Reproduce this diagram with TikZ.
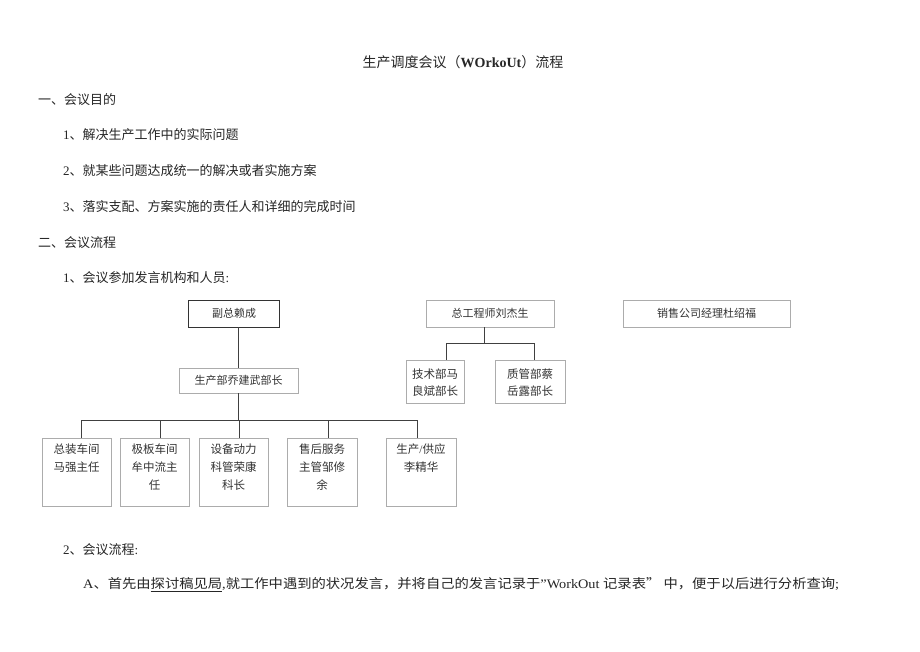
\documentclass[tikz,border=0pt]{standalone}
\usepackage{fontspec}
\usepackage{graphicx}
\setmainfont{Liberation Serif}
\newfontfamily\cjk{Noto Sans CJK SC}
\newcommand\latn[1]{{\rmfamily #1}}
\begin{document}
\begin{tikzpicture}[x=1pt,y=-1pt,
  txt/.style={anchor=west,inner sep=0pt,font=\cjk\fontsize{13}{15}\selectfont,text=black!85},
  topbox/.style={draw=black!80,line width=0.8pt,minimum height=27,inner sep=0pt,font=\cjk\fontsize{11}{13}\selectfont,text=black!80},
  orgbox/.style={draw=gray!65,line width=0.7pt,inner sep=0pt,font=\cjk\fontsize{11}{13}\selectfont,text=black!80},
  boxtxt/.style={anchor=north,inner sep=0pt,align=center,font=\cjk\fontsize{11.5}{18}\selectfont,text=black!80},
  conn/.style={draw=black!75,line width=0.9pt}]
\useasboundingbox[fill=white] (0,0) rectangle (920,651);

% title
\node[inner sep=0pt,font=\cjk\fontsize{14}{16}\selectfont,text=black!85] (title) at (463,62)
  {生产调度会议（{\rmfamily\bfseries WOrkoUt}）流程};

\node[txt] (h1) at (38,100) {一、会议目的};
\node[txt] (p1) at (63,135) {\latn{1}、解决生产工作中的实际问题};
\node[txt] (p2) at (63,171) {\latn{2}、就某些问题达成统一的解决或者实施方案};
\node[txt] (p3) at (63,207) {\latn{3}、落实支配、方案实施的责任人和详细的完成时间};
\node[txt] (h2) at (38,243) {二、会议流程};
\node[txt] (q1) at (63,278) {\latn{1}、会议参加发言机构和人员\latn{:}};

% org chart left
\node[topbox,minimum width=91] (fz) at (234,313.5) {副总赖成};
\node[orgbox,minimum width=119,minimum height=25] (scb) at (238.5,380.5) {生产部乔建武部长};
\draw[conn] (scb.north) -- (scb.north |- fz.south);

\coordinate (busY) at (0,420);
\node[orgbox,minimum width=69,minimum height=68] (b1) at (76.5,472) {};
\node[orgbox,minimum width=69,minimum height=68] (b2) at (154.5,472) {};
\node[orgbox,minimum width=69,minimum height=68] (b3) at (233.5,472) {};
\node[orgbox,minimum width=70,minimum height=68] (b4) at (322,472) {};
\node[orgbox,minimum width=70,minimum height=68] (b5) at (421,472) {};
\node[boxtxt] (t1) at ([yshift=-6]b1.north) {总装车间\\马强主任};
\node[boxtxt] (t2) at ([yshift=-6]b2.north) {极板车间\\牟中流主\\任};
\node[boxtxt] (t3) at ([yshift=-6]b3.north) {设备动力\\科管荣康\\科长};
\node[boxtxt] (t4) at ([yshift=-6]b4.north) {售后服务\\主管邹修\\余};
\node[boxtxt] (t5) at ([yshift=-6]b5.north) {生产\latn{/}供应\\李精华};

\draw[conn] (scb.south) -- (scb.south |- busY);
\draw[conn] ([xshift=4.5]b1.north) -- ([xshift=4.5]b1.north |- busY) -- ([xshift=-4]b5.north |- busY) -- ([xshift=-4]b5.north);
\draw[conn] ([xshift=5.5]b2.north) -- ([xshift=5.5]b2.north |- busY);
\draw[conn] ([xshift=5.5]b3.north) -- ([xshift=5.5]b3.north |- busY);
\draw[conn] ([xshift=6]b4.north) -- ([xshift=6]b4.north |- busY);

% org chart right
\node[orgbox,minimum width=128,minimum height=27] (zg) at (490,313.5) {总工程师刘杰生};
\node[orgbox,minimum width=167,minimum height=27] (xs) at (706.5,313.5) {销售公司经理杜绍福};
\node[orgbox,minimum width=58,minimum height=43] (js) at (435,381.5) {};
\node[orgbox,minimum width=70,minimum height=43] (zl) at (530,381.5) {};
\node[boxtxt,font=\cjk\fontsize{11.5}{17}\selectfont] (tj) at ([yshift=-9]js.north) {技术部马\\良斌部长};
\node[boxtxt,font=\cjk\fontsize{11.5}{17}\selectfont] (tz) at ([yshift=-9]zl.north) {质管部蔡\\岳露部长};
\coordinate (busR) at (0,343);
\draw[conn] ([xshift=-6]zg.south) -- ([xshift=-6]zg.south |- busR);
\draw[conn] ([xshift=11]js.north) -- ([xshift=11]js.north |- busR) -- ([xshift=4]zl.north |- busR) -- ([xshift=4]zl.north);

% process
\node[txt] (q2) at (63,550) {\latn{2}、会议流程\latn{:}};
\node[txt] (qa) at (83,585) {\scalebox{1.1}[1]{\latn{A}、首先由\underline{探讨稿见局}\latn{,}就工作中遇到的状况发言，并将自己的发言记录于\latn{"WorkOut }记录表” 中，便于以后进行分析查询\latn{;}}};
\end{tikzpicture}
\end{document}
